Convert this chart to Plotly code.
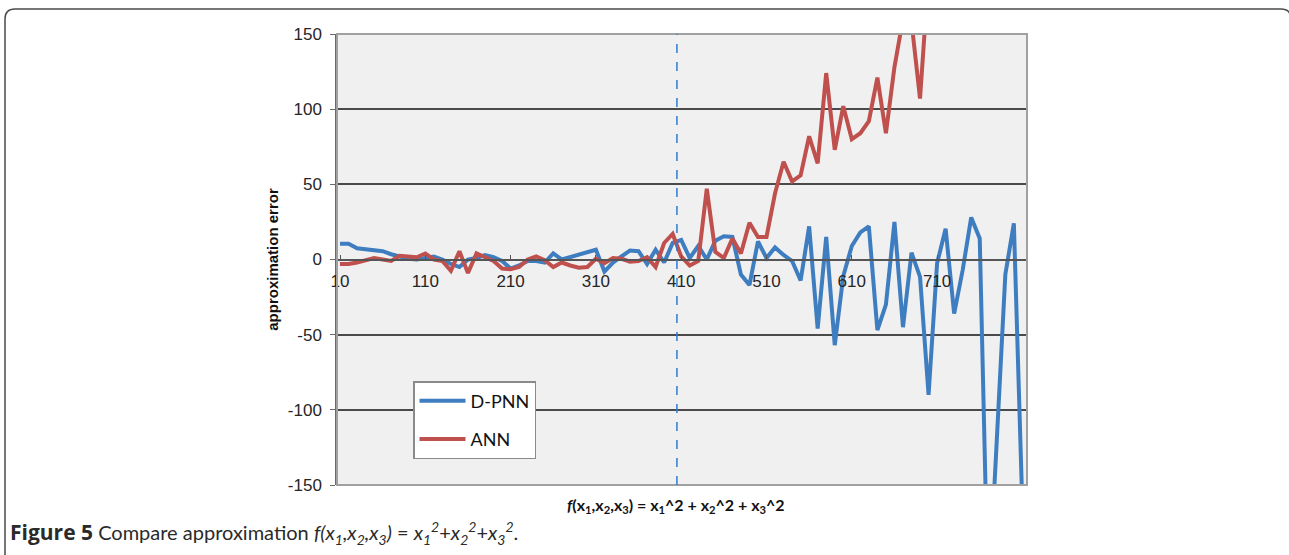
import plotly.graph_objects as go

# ---------------- data ----------------
x_values = list(range(10, 820, 10))  # 81 categories: 10, 20, ..., 810

dpnn = [10.5, 10.5, 7.5, 6.8, 6, 5.5, 3.5, 2, 0.5, 0,
        1, 2, 0, -3, -5, 0, 1, 3, 1.5, -1,
        -6, -4, -1, -1, -2, 4, 0, 1.5, 3, 4.5,
        6.5, -8, -2, 2, 6, 5.5, -3, 6.5, -2, 11,
        13, 1, 9, 0, 12.5, 15.5, 15, -10, -17, 12,
        1, 8, 3, -1, -14, 22, -46, 15, -57, -11,
        9, 18, 22, -47, -30, 25, -45, 4.5, -11.5, -90,
        -2.5, 20.5, -36, -7, 28, 14, -230, -120, -10, 24,
        -165]

ann = [-3, -3, -2, -0.5, 1, 0, -1, 2.5, 2, 1.5,
       4, 0, -1, -7.5, 5.5, -9, 4, 1.5, -1, -6,
       -6.5, -5, 0, 2, -0.5, -5, -2, -4, -5.5, -5,
       0.5, -2.5, 1, 0.5, -1.5, -1, 1.5, -5, 11, 17,
       2, -4, -1, 47, 5, 1, 14, 4, 24.5, 15,
       15, 44, 65, 52, 56, 82, 64, 124, 73, 102,
       80, 84, 92, 121, 84, 128, 160, 158, 107, 190,
       None, None, None, None, None, None, None, None, None, None,
       None]

x_tick_vals = [10, 110, 210, 310, 410, 510, 610, 710]
x_tick_text = ["10", "110", "210", "310", "410", "510", "610", "710"]
y_tick_vals = [-150, -100, -50, 0, 50, 100, 150]
y_tick_text = ["-150", "-100", "-50", "0", "50", "100", "150"]

boundary_x = 405  # dashed vertical separator

# ---------------- geometry (pixels) ----------------
W, H = 1289, 555
L, R, T, B = 337, 1027, 34, 485


def px(xp):
    return (xp - L) / (R - L)


def py(yp):
    return (B - yp) / (B - T)


BLUE = "#3F7DC1"
RED = "#C0504D"

fig = go.Figure()
fig.add_trace(go.Scatter(x=x_values, y=dpnn, mode="lines", name="D-PNN",
                         legendgroup="a",
                         line=dict(color=BLUE, width=4)))
fig.add_trace(go.Scatter(x=x_values, y=ann, mode="lines", name="ANN",
                         legendgroup="b",
                         line=dict(color=RED, width=4)))

axis_font = dict(family="Liberation Sans, Arial, sans-serif", size=17, color="#262626")

fig.update_layout(
    width=W, height=H,
    margin=dict(l=L, r=W - R, t=T, b=H - B, pad=0),
    paper_bgcolor="white",
    plot_bgcolor="#F0F0F0",
    showlegend=True,
    legend=dict(x=px(413), y=py(381), xanchor="left", yanchor="top",
                bgcolor="white", bordercolor="#8a8a8a", borderwidth=1.5,
                font=dict(family="Lato, sans-serif", size=18, color="#111"),
                itemwidth=46, tracegroupgap=12, traceorder="grouped"),
    xaxis=dict(range=[6.48, 815.4], anchor="free", position=0.5,
               tickmode="array", tickvals=x_tick_vals, ticktext=x_tick_text,
               showgrid=False, zeroline=False,
               showline=True, linecolor="#555555", linewidth=1.5,
               ticks="inside", ticklen=4, tickcolor="#555555", tickwidth=1,
               ticklabelstandoff=6,
               tickfont=axis_font),
    yaxis=dict(range=[-150, 150], tickmode="array", tickvals=y_tick_vals,
               ticktext=y_tick_text,
               showgrid=True, gridcolor="#4a4a4a", gridwidth=1.5,
               zeroline=False,
               showline=True, linecolor="#6a6a6a", linewidth=1.5,
               ticks="outside", ticklen=5, tickcolor="#6a6a6a",
               ticklabelstandoff=5,
               tickfont=axis_font,
               title=dict(text="<b>approximation error</b>", standoff=6,
                          font=dict(family="Liberation Sans, Arial, sans-serif",
                                    size=15, color="#111"))),
)

# plot-area frame
fig.add_shape(type="rect", xref="paper", yref="paper", x0=0, x1=1, y0=0, y1=1,
              line=dict(color="#A0A0A0", width=2), layer="above")
# dashed separator
fig.add_shape(type="line", xref="x", yref="paper", x0=boundary_x, x1=boundary_x,
              y0=0, y1=1, line=dict(color="#2F7BD0", width=1.5, dash="dash"))

# outer rounded frame
x0, x1 = px(5), px(1291)
y0, y1 = py(600), py(9)
rx, ry = 10 / (R - L), 10 / (B - T)
path = (f"M {x0},{y0} L {x0},{y1 - ry} Q {x0},{y1} {x0 + rx},{y1} "
        f"L {x1 - rx},{y1} Q {x1},{y1} {x1},{y1 - ry} L {x1},{y0}")
fig.add_shape(type="path", xref="paper", yref="paper", path=path,
              line=dict(color="#4a4a4a", width=1.5))

# x-axis title
fig.add_annotation(xref="paper", yref="paper", x=px(676), y=py(505),
                   xanchor="center", yanchor="middle", showarrow=False,
                   text="<b><i>f</i>(x<sub>1</sub>,x<sub>2</sub>,x<sub>3</sub>) = "
                        "x<sub>1</sub>^2 + x<sub>2</sub>^2 + x<sub>3</sub>^2</b>",
                   font=dict(family="Lato, sans-serif", size=16, color="#111"))

# caption
fig.add_annotation(xref="paper", yref="paper", x=px(8), y=py(533),
                   xanchor="left", yanchor="middle", showarrow=False,
                   text="<span style=\"font-family:'Open Sans';font-size:21px\"><b>Figure 5</b></span>"
                        " Compare approximation "
                        "<i>f(x<sub>1</sub>,x<sub>2</sub>,x<sub>3</sub>)</i> = "
                        "<i>x<sub>1</sub><sup>2</sup></i>+<i>x<sub>2</sub><sup>2</sup></i>"
                        "+<i>x<sub>3</sub><sup>2</sup></i>.",
                   font=dict(family="Lato, sans-serif", size=20, color="#2a2a2a"))

fig.write_html("out.html")
